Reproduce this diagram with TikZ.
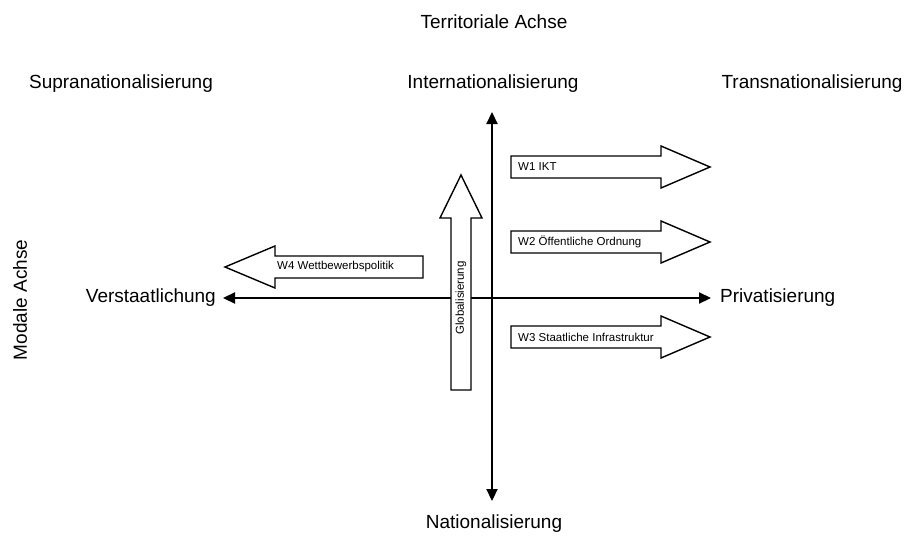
\documentclass[tikz,border=0pt]{standalone}
\usepackage{fontspec}
\setmainfont{Liberation Sans}
\usetikzlibrary{arrows.meta}
\begin{document}
\begin{tikzpicture}[x=1pt,y=-1pt,
  biglabel/.style={font=\fontsize{19}{22}\selectfont, inner sep=0pt},
  smalllabel/.style={font=\fontsize{11.5}{13}\selectfont, inner sep=0pt},
  axis/.style={line width=2.2pt, {Triangle[length=12pt,width=11pt]}-{Triangle[length=12pt,width=11pt]}},
  fatarrow/.style={draw=black, line width=1.4pt, fill=white, line join=miter}
]
\useasboundingbox (0,0) rectangle (908,538);
% labels
\node[biglabel] (terr) at (494,22) {Territoriale Achse};
\node[biglabel] (supra) at (121,84) {Supranationalisierung};
\node[biglabel] (inter) at (493,84) {Internationalisierung};
\node[biglabel] (trans) at (812,84) {Transnationalisierung};
\node[biglabel, anchor=east] (verst) at (216,298) {Verstaatlichung};
\node[biglabel, anchor=west] (priv) at (720,298) {Privatisierung};
\node[biglabel] (nat) at (494,524) {Nationalisierung};
\node[biglabel, rotate=90] (modal) at (20,300) {Modale Achse};
% axis end points
\coordinate (vtop) at (492,112);
\coordinate (vbot) at (492,501);
\coordinate (hleft) at (223,298);
\coordinate (hright) at (711,298);
% axes
\draw[axis] (vbot) -- (vtop);
\draw[axis] (hleft) -- (hright);
% globalisation arrow (on top of the horizontal axis)
\draw[fatarrow] (451,390) -- (451,218) -- (440,218) -- (461,175) -- (482,218) -- (471,218) -- (471,390) -- cycle;
\node[smalllabel, rotate=90] (glob) at (461,298) {Globalisierung};
% W1
\draw[fatarrow] (511,156) -- (661,156) -- (661,146) -- (710,167) -- (661,188) -- (661,178) -- (511,178) -- cycle;
\node[smalllabel, anchor=west] (w1) at (518,167) {W1 IKT};
% W2
\draw[fatarrow] (511,231) -- (661,231) -- (661,221) -- (710,242) -- (661,263) -- (661,253) -- (511,253) -- cycle;
\node[smalllabel, anchor=west] (w2) at (518,242) {W2 Öffentliche Ordnung};
% W3
\draw[fatarrow] (511,326) -- (661,326) -- (661,316) -- (710,337) -- (661,358) -- (661,348) -- (511,348) -- cycle;
\node[smalllabel, anchor=west] (w3) at (518,337) {W3 Staatliche Infrastruktur};
% W4
\draw[fatarrow] (423,256) -- (275,256) -- (275,246) -- (225,267) -- (275,288) -- (275,278) -- (423,278) -- cycle;
\node[smalllabel, anchor=west] (w4) at (277,267) {W4 Wettbewerbspolitik};
\end{tikzpicture}
\end{document}
